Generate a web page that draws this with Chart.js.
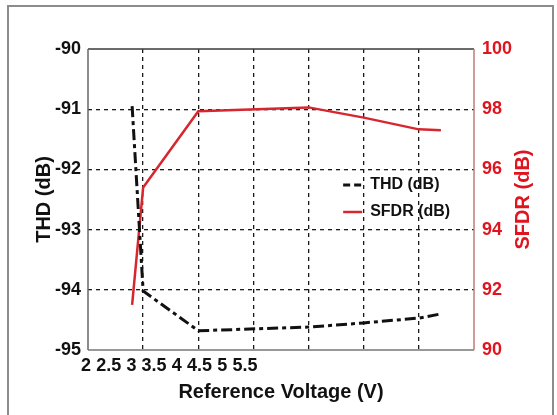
<!DOCTYPE html>
<html><head><meta charset="utf-8">
<script src="https://cdn.jsdelivr.net/npm/chart.js@4"></script>
<style>
html,body{margin:0;padding:0;background:#fff;overflow:hidden;}
#wrap{position:relative;width:557px;height:415px;overflow:hidden;}
#frame{position:absolute;left:7px;top:5px;width:547px;height:420px;border:2px solid #8c8c8c;box-sizing:border-box;pointer-events:none;}
canvas{position:absolute;left:0;top:0;}
</style></head><body>
<div id="wrap"><canvas id="c" width="557" height="415"></canvas><div id="frame"></div></div>
<script>
// positions along the gridded x axis (grid lines at 1..6, axis spans 0..7)
const gridPos = [0.8, 1.0, 2, 4, 5, 6, 6.4];
const thdValues = [-90.95, -94.02, -94.68, -94.62, -94.55, -94.47, -94.4];
const sfdrValues = [91.5, 95.4, 97.93, 98.06, 97.72, 97.33, 97.3];
const xTickValues = [2, 2.5, 3, 3.5, 4, 4.5, 5, 5.5];
const xTickLabels = ['2', '2.5', '3', '3.5', '4', '4.5', '5', '5.5'];
const seriesNames = ['THD (dB)', 'SFDR (dB)'];
const rightTitle = 'SFDR (dB)';

const RED = '#e0141e';
const FONT = 'Liberation Sans, Arial, Helvetica, sans-serif';

const frameBorders = {
  id: 'frameBorders',
  afterDatasetsDraw(chart) {
    const {ctx, chartArea: a} = chart;
    ctx.save();
    ctx.setLineDash([]);
    const seg = (x1, y1, x2, y2, c, w) => {
      ctx.strokeStyle = c; ctx.lineWidth = w;
      ctx.beginPath(); ctx.moveTo(x1, y1); ctx.lineTo(x2, y2); ctx.stroke();
    };
    seg(a.left, a.top, a.right, a.top, '#3a3a3a', 1.5);
    seg(a.left, a.top, a.left, a.bottom, '#666', 1.5);
    seg(a.left, a.bottom, a.right, a.bottom, '#777', 1.5);
    seg(a.right, a.top, a.right, a.bottom, '#c07a7a', 1.5);
    ctx.restore();
  }
};

const rightAxisTitle = {
  id: 'rightAxisTitle',
  afterDraw(chart) {
    const {ctx, chartArea: a} = chart;
    const s = chart.scales.y2;
    ctx.save();
    ctx.translate(s.right - 33.5, (a.top + a.bottom) / 2);
    ctx.rotate(-Math.PI / 2);
    ctx.fillStyle = RED;
    ctx.font = 'bold 20px ' + FONT;
    ctx.textAlign = 'center';
    ctx.textBaseline = 'middle';
    ctx.fillText(rightTitle, 0, 0);
    ctx.restore();
  }
};

const insideLegend = {
  id: 'insideLegend',
  afterDraw(chart) {
    const {ctx, chartArea: a} = chart;
    const x0 = a.left + 0.661 * (a.right - a.left);
    const rows = [a.top + 136, a.top + 163];
    ctx.save();
    chart.data.datasets.forEach((ds, i) => {
      const y = rows[i];
      ctx.strokeStyle = ds.borderColor;
      ctx.lineWidth = ds.borderWidth;
      ctx.setLineDash(i === 0 ? [7, 4] : []);
      ctx.beginPath(); ctx.moveTo(x0, y); ctx.lineTo(x0 + 19, y); ctx.stroke();
      ctx.setLineDash([]);
      ctx.fillStyle = '#111';
      ctx.font = 'bold 16px ' + FONT;
      ctx.textBaseline = 'middle';
      ctx.textAlign = 'left';
      ctx.fillText(ds.label, x0 + 27, y);
    });
    ctx.restore();
  }
};

new Chart(document.getElementById('c'), {
  type: 'line',
  data: {
    datasets: [
      {
        label: seriesNames[0],
        data: gridPos.map((x, i) => ({x, y: thdValues[i]})),
        borderColor: '#111',
        borderWidth: 3,
        borderDash: [11, 4, 4, 4],
        pointRadius: 0,
        tension: 0,
        yAxisID: 'y',
        xAxisID: 'x'
      },
      {
        label: seriesNames[1],
        data: gridPos.map((x, i) => ({x, y: sfdrValues[i]})),
        borderColor: '#d8262e',
        borderWidth: 2.5,
        pointRadius: 0,
        tension: 0,
        yAxisID: 'y2',
        xAxisID: 'x'
      }
    ]
  },
  options: {
    responsive: false,
    animation: false,
    devicePixelRatio: 1,
    layout: {padding: {top: 49, left: 0, right: 0, bottom: 0}},
    plugins: {legend: {display: false}, tooltip: {enabled: false}},
    scales: {
      x: {
        type: 'linear', position: 'bottom', min: 0, max: 7,
        ticks: {display: false, stepSize: 1},
        grid: {
          drawTicks: false, lineWidth: 1.3,
          color: c => (c.tick && (c.tick.value === 0 || c.tick.value === 7)) ? 'rgba(0,0,0,0)' : '#1a1a1a'
        },
        border: {display: false, dash: [4, 4]},
        afterFit: s => { s.height = 0; }
      },
      xl: {
        type: 'linear', position: 'bottom', min: 2.044, max: 2.044 + 386 / 45.4,
        afterBuildTicks: s => { s.ticks = xTickValues.map(v => ({value: v})); },
        ticks: {
          autoSkip: false, maxRotation: 0, minRotation: 0, padding: 5,
          color: '#111', font: {family: FONT, size: 18, weight: 'bold'},
          callback: (v, i) => xTickLabels[i]
        },
        grid: {display: false, drawTicks: false},
        border: {display: false},
        title: {
          display: true, text: 'Reference Voltage (V)', color: '#111',
          font: {family: FONT, size: 20, weight: 'bold'},
          padding: {top: 0, bottom: 11}
        },
        afterFit: s => { s.height = 65; }
      },
      y: {
        type: 'linear', position: 'left', min: -95, max: -90,
        ticks: {stepSize: 1, padding: 7, color: '#111', font: {family: FONT, size: 18, weight: 'bold'}},
        grid: {
          drawTicks: false, lineWidth: 1.3,
          color: c => (c.tick && (c.tick.value === -90 || c.tick.value === -95)) ? 'rgba(0,0,0,0)' : '#1a1a1a'
        },
        border: {display: false, dash: [4, 4]},
        title: {
          display: true, text: 'THD (dB)', color: '#111',
          font: {family: FONT, size: 20, weight: 'bold'},
          padding: {top: 32, bottom: 0}
        },
        afterFit: s => { s.width = 88; }
      },
      y2: {
        type: 'linear', position: 'right', min: 90, max: 100,
        ticks: {stepSize: 2, padding: 8, color: RED, font: {family: FONT, size: 18, weight: 'bold'}},
        grid: {drawOnChartArea: false, drawTicks: false},
        border: {display: false},
        title: {display: false},
        afterFit: s => { s.width = 83; }
      }
    }
  },
  plugins: [frameBorders, rightAxisTitle, insideLegend]
});
</script>
</body></html>
